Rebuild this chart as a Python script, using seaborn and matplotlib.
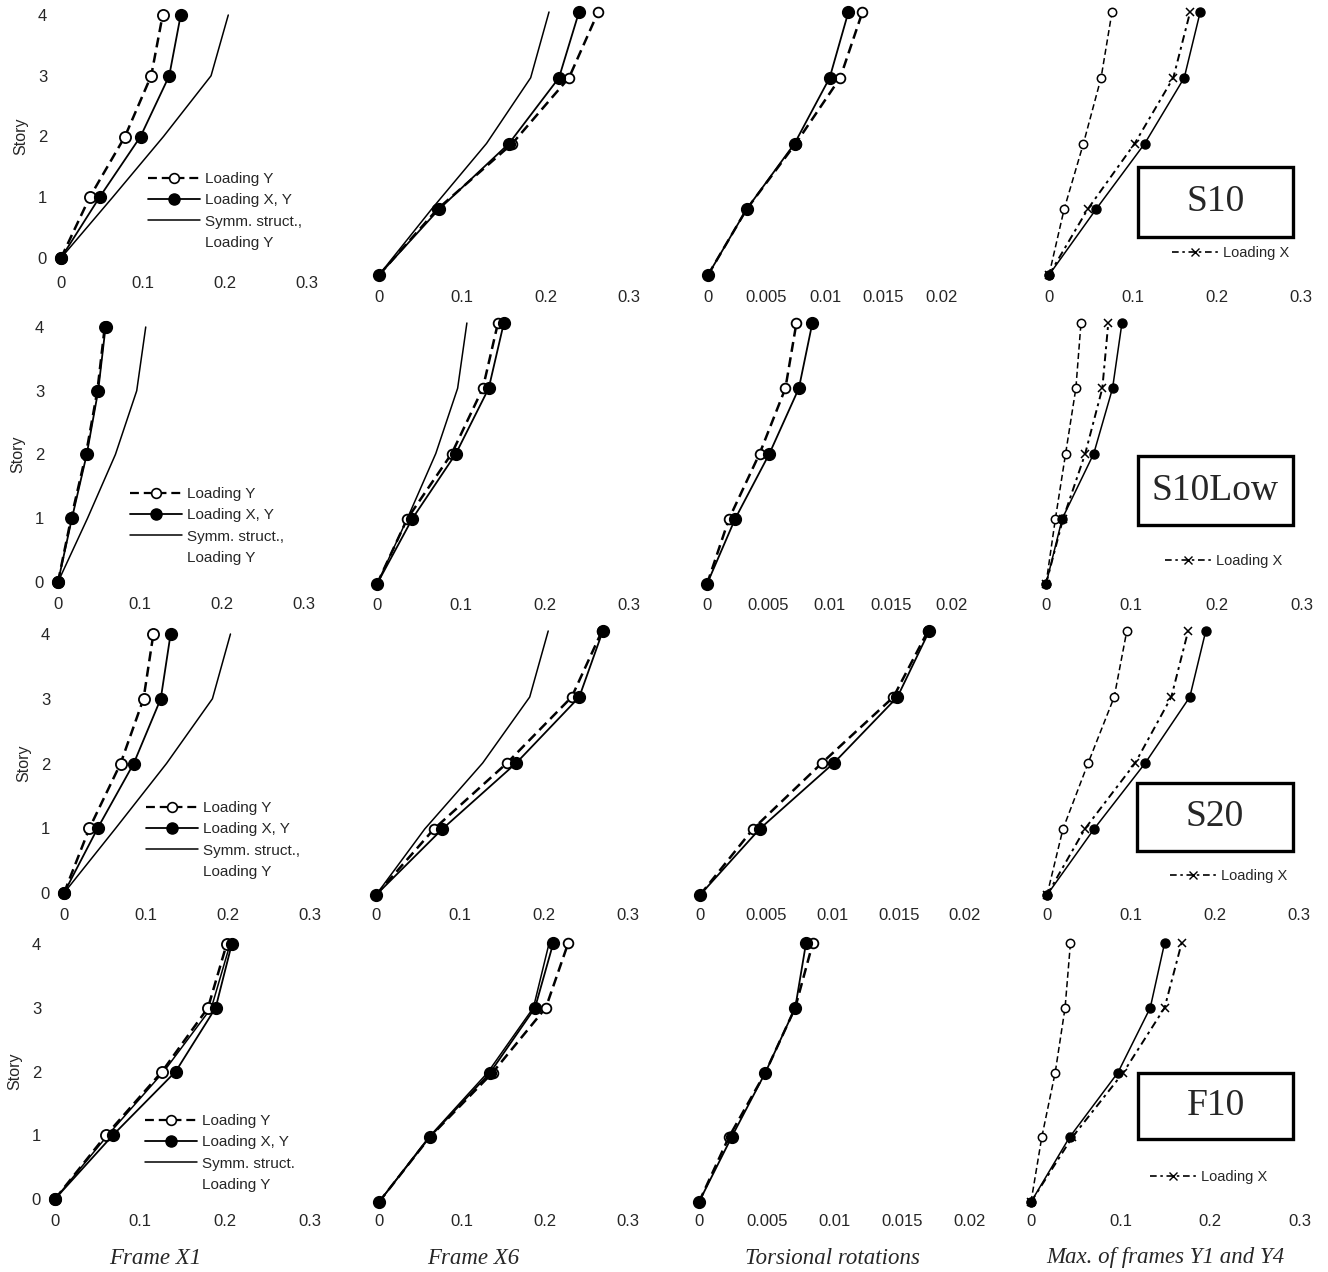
import matplotlib
matplotlib.use("Agg")
import matplotlib.pyplot as plt
import seaborn as sns
from matplotlib.lines import Line2D
from matplotlib.patches import Rectangle

# ---------------- data ----------------
stories = [0, 1, 2, 3, 4]
structures = ["S10", "S10Low", "S20", "F10"]
column_titles = ["Frame X1", "Frame X6", "Torsional rotations", "Max. of frames Y1 and Y4"]
disp_ticks = [0, 0.1, 0.2, 0.3]
disp_tick_labels = ["0", "0.1", "0.2", "0.3"]
rot_ticks = [0, 0.005, 0.01, 0.015, 0.02]
rot_tick_labels = ["0", "0.005", "0.01", "0.015", "0.02"]
story_tick_labels = ["0", "1", "2", "3", "4"]
symm_labels = ["Symm. struct.,", "Symm. struct.,", "Symm. struct.,", "Symm. struct."]

# S10
s10_x1_y = [0, 0.035, 0.078, 0.110, 0.124]
s10_x1_xy = [0, 0.047, 0.097, 0.132, 0.146]
s10_x1_sym = [0, 0.063, 0.125, 0.183, 0.204]
s10_x6_y = [0, 0.070, 0.160, 0.228, 0.263]
s10_x6_xy = [0, 0.072, 0.156, 0.216, 0.240]
s10_x6_sym = [0, 0.063, 0.129, 0.182, 0.204]
s10_rot_y = [0, 0.0033, 0.0075, 0.0113, 0.0132]
s10_rot_xy = [0, 0.0033, 0.0074, 0.0104, 0.0120]
s10_max_y = [0, 0.018, 0.041, 0.062, 0.075]
s10_max_xy = [0, 0.056, 0.114, 0.161, 0.180]
s10_max_x = [0, 0.046, 0.102, 0.148, 0.168]

# S10Low
low_x1_y = [0, 0.016, 0.034, 0.048, 0.057]
low_x1_xy = [0, 0.017, 0.035, 0.049, 0.058]
low_x1_sym = [0, 0.036, 0.070, 0.096, 0.107]
low_x6_y = [0, 0.036, 0.089, 0.126, 0.144]
low_x6_xy = [0, 0.042, 0.094, 0.133, 0.151]
low_x6_sym = [0, 0.036, 0.070, 0.096, 0.107]
low_rot_y = [0, 0.0018, 0.0043, 0.0064, 0.0073]
low_rot_xy = [0, 0.0023, 0.0051, 0.0075, 0.0086]
low_max_y = [0, 0.011, 0.023, 0.035, 0.041]
low_max_xy = [0, 0.019, 0.056, 0.078, 0.089]
low_max_x = [0, 0.020, 0.046, 0.066, 0.073]

# S20
s20_x1_y = [0, 0.031, 0.069, 0.097, 0.109]
s20_x1_xy = [0, 0.041, 0.085, 0.118, 0.130]
s20_x1_sym = [0, 0.063, 0.125, 0.181, 0.203]
s20_x6_y = [0, 0.069, 0.156, 0.233, 0.269]
s20_x6_xy = [0, 0.079, 0.167, 0.242, 0.270]
s20_x6_sym = [0, 0.058, 0.127, 0.183, 0.205]
s20_rot_y = [0, 0.0040, 0.0092, 0.0146, 0.0172]
s20_rot_xy = [0, 0.0045, 0.0101, 0.0149, 0.0173]
s20_max_y = [0, 0.019, 0.049, 0.080, 0.095]
s20_max_xy = [0, 0.056, 0.117, 0.170, 0.189]
s20_max_x = [0, 0.045, 0.105, 0.148, 0.168]

# F10
f10_x1_y = [0, 0.060, 0.126, 0.180, 0.202]
f10_x1_xy = [0, 0.068, 0.142, 0.189, 0.208]
f10_x1_sym = [0, 0.062, 0.128, 0.184, 0.206]
f10_x6_y = [0, 0.061, 0.137, 0.201, 0.228]
f10_x6_xy = [0, 0.061, 0.134, 0.188, 0.210]
f10_x6_sym = [0, 0.060, 0.131, 0.186, 0.205]
f10_rot_y = [0, 0.0022, 0.0049, 0.0071, 0.0084]
f10_rot_xy = [0, 0.0024, 0.0049, 0.0071, 0.0079]
f10_max_y = [0, 0.012, 0.027, 0.038, 0.044]
f10_max_xy = [0, 0.043, 0.097, 0.133, 0.149]
f10_max_x = [0, 0.046, 0.103, 0.149, 0.168]

data = [
    [(s10_x1_y, s10_x1_xy, s10_x1_sym), (s10_x6_y, s10_x6_xy, s10_x6_sym),
     (s10_rot_y, s10_rot_xy, None), (s10_max_y, s10_max_xy, s10_max_x)],
    [(low_x1_y, low_x1_xy, low_x1_sym), (low_x6_y, low_x6_xy, low_x6_sym),
     (low_rot_y, low_rot_xy, None), (low_max_y, low_max_xy, low_max_x)],
    [(s20_x1_y, s20_x1_xy, s20_x1_sym), (s20_x6_y, s20_x6_xy, s20_x6_sym),
     (s20_rot_y, s20_rot_xy, None), (s20_max_y, s20_max_xy, s20_max_x)],
    [(f10_x1_y, f10_x1_xy, f10_x1_sym), (f10_x6_y, f10_x6_xy, f10_x6_sym),
     (f10_rot_y, f10_rot_xy, None), (f10_max_y, f10_max_xy, f10_max_x)],
]

# ---------------- layout (pixels) ----------------
W, H = 1328, 1272
panel_x = [
    [(61, 307), (379, 629), (708, 942), (1049, 1301)],
    [(58, 304), (377, 629), (707, 952), (1046, 1302)],
    [(64, 310), (376, 628), (700, 965), (1047, 1299)],
    [(55, 310), (379, 628), (699, 970), (1031, 1300)],
]
panel_y = [
    [(258, 15), (275, 12)],
    [(582, 327), (584, 323)],
    [(893, 634), (895, 631)],
    [(1199, 944), (1202, 943)],
]
tick_offset = [(27, 23), (24, 22), (23, 21), (23, 20)]
legend1_anchor = [(148, 172), (130, 487), (146, 801), (145, 1114)]
legend4_anchor = [(1172, 246), (1165, 554), (1170, 869), (1150, 1170)]
box_px = [(1138, 167, 1293, 237), (1138, 456, 1293, 525),
          (1137, 783, 1293, 851), (1138, 1073, 1293, 1139)]
title_px = [(155, 1258), (473, 1258), (832, 1258), (1165, 1258)]

sns.set_theme(style="white")
plt.rcParams["font.family"] = ["Liberation Sans", "DejaVu Sans"]
FS = 11
TFS = 12

fig = plt.figure(figsize=(W / 100, H / 100), dpi=100)
fig.patch.set_facecolor("white")

dash = (0, (4, 2.2))
dashdot = (0, (4, 2.2, 1.5, 2.2))

for r in range(4):
    for c in range(4):
        x0, x1 = panel_x[r][c]
        y0, y4 = panel_y[r][0 if c == 0 else 1]
        ax = fig.add_axes([x0 / W, 1 - y0 / H, (x1 - x0) / W, (y0 - y4) / H])
        ax.set_facecolor("none")
        xmax = 0.02 if c == 2 else 0.3
        ser_y, ser_xy, ser_3 = data[r][c]
        if c < 3:
            ms_o = 8 if c == 0 else 7
            if ser_3 is not None:
                sns.lineplot(x=ser_3, y=stories, ax=ax, sort=False, estimator=None,
                             color="black", linewidth=1.1, legend=False, clip_on=False)
            sns.lineplot(x=ser_y, y=stories, ax=ax, sort=False, estimator=None,
                         color="black", linestyle=dash, linewidth=1.8, marker="o",
                         markersize=ms_o, markerfacecolor="white", markeredgecolor="black",
                         markeredgewidth=1.3, legend=False, clip_on=False)
            sns.lineplot(x=ser_xy, y=stories, ax=ax, sort=False, estimator=None,
                         color="black", linewidth=1.3, marker="o", markersize=8.5,
                         markerfacecolor="black", markeredgecolor="black",
                         markeredgewidth=1.0, legend=False, clip_on=False)
        else:
            sns.lineplot(x=ser_y, y=stories, ax=ax, sort=False, estimator=None,
                         color="black", linestyle=dash, linewidth=1.1, marker="o",
                         markersize=6, markerfacecolor="white", markeredgecolor="black",
                         markeredgewidth=1.1, legend=False, clip_on=False)
            sns.lineplot(x=ser_xy, y=stories, ax=ax, sort=False, estimator=None,
                         color="black", linewidth=1.1, marker="o", markersize=6.5,
                         markerfacecolor="black", markeredgecolor="black",
                         markeredgewidth=1.0, legend=False, clip_on=False)
            sns.lineplot(x=ser_3, y=stories, ax=ax, sort=False, estimator=None,
                         color="black", linestyle=dashdot, linewidth=1.4, marker="x",
                         markersize=6, markeredgecolor="black", markeredgewidth=1.1,
                         legend=False, clip_on=False)
        ax.set_xlim(0, xmax)
        ax.set_ylim(0, 4)
        for s in ax.spines.values():
            s.set_visible(False)
        if c == 2:
            ax.set_xticks(rot_ticks)
            ax.set_xticklabels(rot_tick_labels)
        else:
            ax.set_xticks(disp_ticks)
            ax.set_xticklabels(disp_tick_labels)
        off = tick_offset[r][0 if c == 0 else 1]
        ax.tick_params(axis="x", length=0, pad=(off - 8.5) * 0.72, labelsize=TFS)
        if c == 0:
            ax.set_yticks(stories)
            ax.set_yticklabels(story_tick_labels)
            ax.tick_params(axis="y", length=0, pad=10, labelsize=TFS)
            ax.set_ylabel("Story", fontsize=FS + 0.5, labelpad=7)
        else:
            ax.set_yticks([])
            ax.set_ylabel("")
        ax.set_xlabel("")

        if c == 0:
            handles = [
                Line2D([], [], color="black", linestyle=dash, linewidth=1.6, marker="o",
                       markersize=7, markerfacecolor="white", markeredgecolor="black",
                       markeredgewidth=1.2),
                Line2D([], [], color="black", linewidth=1.3, marker="o", markersize=8,
                       markerfacecolor="black", markeredgecolor="black"),
                Line2D([], [], color="black", linewidth=1.1),
                Line2D([], [], color="none"),
            ]
            labels = ["Loading Y", "Loading X, Y", symm_labels[r], "Loading Y"]
            ax_, ay_ = legend1_anchor[r]
            ax.legend(handles, labels, loc="upper left",
                      bbox_to_anchor=(ax_ / W, 1 - ay_ / H), bbox_transform=fig.transFigure,
                      frameon=False, fontsize=FS, handlelength=3.4, handletextpad=0.3,
                      labelspacing=0.48, borderpad=0, borderaxespad=0)
        if c == 3:
            handles = [Line2D([], [], color="black", linestyle=dashdot, linewidth=1.2,
                              marker="x", markersize=5.5, markeredgecolor="black",
                              markeredgewidth=1.0)]
            ax_, ay_ = legend4_anchor[r]
            ax.legend(handles, ["Loading X"], loc="upper left",
                      bbox_to_anchor=(ax_ / W, 1 - ay_ / H), bbox_transform=fig.transFigure,
                      frameon=False, fontsize=FS - 0.5, handlelength=3.2, handletextpad=0.3,
                      borderpad=0, borderaxespad=0)
            bx0, by0, bx1, by1 = box_px[r]
            rect = Rectangle((bx0 / W, 1 - by1 / H), (bx1 - bx0) / W, (by1 - by0) / H,
                             transform=fig.transFigure, fill=False, edgecolor="black",
                             linewidth=2.4)
            fig.add_artist(rect)
            fig.text((bx0 + bx1) / 2 / W, 1 - (by0 + by1) / 2 / H, structures[r],
                     ha="center", va="center", fontsize=27,
                     family=["Liberation Serif", "DejaVu Serif"])

for t, (tx, ty) in zip(column_titles, title_px):
    fig.text(tx / W, 1 - ty / H, t, ha="center", va="center", fontsize=16.5,
             style="italic", family=["Liberation Serif", "DejaVu Serif"])

fig.savefig("out.png", dpi=100, facecolor="white")
